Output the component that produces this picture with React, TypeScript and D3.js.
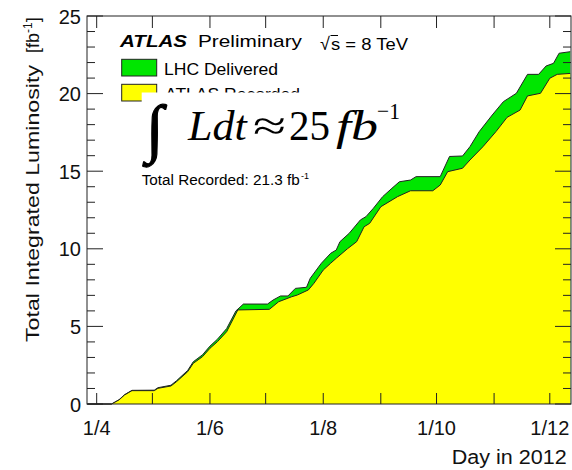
import React from "react";
import * as d3 from "d3";

// ---- data ----
const recDates = ["03-27","04-09","04-13","04-16","04-20","05-02","05-04","05-11","05-14","05-20","05-23","05-28","06-01","06-05","06-10","06-16","07-03","07-08","07-15","07-18","07-24","07-27","08-01","08-05","08-08","08-14","08-19","08-23","08-26","09-01","09-10","09-17","09-29","10-03","10-07","10-15","10-19","10-26","11-02","11-08","11-15","11-19","11-26","12-01","12-05","12-12"];
const recValues = [0,0,0.26,0.58,0.86,0.86,1.01,1.16,1.44,2.08,2.62,3.05,3.59,4.01,4.66,6.06,6.1,6.59,6.91,7.02,7.35,7.78,8.63,9.07,9.39,10.0,10.46,11.42,11.64,12.71,13.36,13.74,13.74,14.11,14.97,15.19,15.72,16.58,17.55,18.47,18.94,19.85,20.02,20.99,21.24,21.3];

const delDates = ["03-27","04-09","04-13","04-16","04-20","05-02","05-04","05-11","05-14","05-20","05-23","05-28","06-01","06-05","06-10","06-15","06-19","07-02","07-05","07-09","07-13","07-17","07-23","07-25","07-31","08-05","08-08","08-10","08-15","08-21","08-24","08-28","09-02","09-07","09-11","09-17","09-20","10-03","10-08","10-15","10-19","10-24","10-31","11-06","11-13","11-19","11-25","11-29","12-03","12-06","12-12"];
const delValues = [0,0,0.27,0.6,0.88,0.89,1.05,1.21,1.5,2.16,2.72,3.17,3.73,4.17,4.86,6.0,6.44,6.44,6.70,6.96,6.96,7.45,7.52,8.10,9.07,9.71,9.92,10.46,11.0,11.86,12.07,12.61,13.36,13.9,14.32,14.43,14.65,14.65,15.95,15.98,16.58,17.55,18.62,19.48,20.02,21.24,21.24,21.78,21.95,22.6,22.7];

const yMajorTicks = [0, 5, 10, 15, 20, 25];
const yMinorTicks = d3.range(0, 26, 1);
const xLabelMonths = [3, 5, 7, 9, 11]; // 0-based months labelled (Apr, Jun, Aug, Oct, Dec)

const YEAR = 2012;
const parse = (s: string) => {
  const [m, d] = s.split("-").map(Number);
  return new Date(Date.UTC(YEAR, m - 1, d));
};

const W = 572, H = 470;
const L = 87, R = 571, T = 16, B = 404;

export default function App() {
  const x = d3.scaleUtc()
    .domain([new Date(Date.UTC(YEAR, 2, 26, 19)), new Date(Date.UTC(YEAR, 11, 12, 10))])
    .range([L, R]);
  const y = d3.scaleLinear().domain([0, 25]).range([B, T]);

  const rec = recDates.map((d, i) => ({ d: parse(d), v: recValues[i] }));
  const del = delDates.map((d, i) => ({ d: parse(d), v: delValues[i] }));

  const area = d3.area<{ d: Date; v: number }>().x(p => x(p.d)).y0(y(0)).y1(p => y(p.v));
  const line = d3.line<{ d: Date; v: number }>().x(p => x(p.d)).y(p => y(p.v));

  const months = d3.utcMonth.range(new Date(Date.UTC(YEAR, 3, 1)), new Date(Date.UTC(YEAR, 11, 2)));
  const fmt = d3.utcFormat("%-d/%-m");

  const sans = "'Liberation Sans', Arial, sans-serif";
  const serif = "'Liberation Serif', 'Times New Roman', serif";
  const axisCol = "#222";

  return (
    <svg width={W} height={H} style={{ position: "absolute", left: 0, top: 0, background: "#fff" }}>
      <rect x={0} y={0} width={W} height={H} fill="#fff" />
      {/* areas */}
      <path d={area(del) || ""} fill="#00e600" />
      <path d={line(del) || ""} fill="none" stroke="#222" strokeWidth={1} />
      <path d={area(rec) || ""} fill="#ffff00" />
      <path d={line(rec) || ""} fill="none" stroke="#222" strokeWidth={1} />

      {/* frame */}
      <rect x={L} y={T} width={R - L} height={B - T} fill="none" stroke={axisCol} strokeWidth={1} />

      {/* y ticks */}
      {yMinorTicks.map(v => {
        const major = yMajorTicks.includes(v);
        const len = major ? 16 : 8;
        return (
          <g key={"y" + v}>
            <line x1={L} x2={L + len} y1={y(v)} y2={y(v)} stroke={axisCol} />
            <line x1={R} x2={R - len} y1={y(v)} y2={y(v)} stroke={axisCol} />
          </g>
        );
      })}
      {yMajorTicks.map(v => (
        <text key={"yl" + v} x={81} y={y(v) + 7.5} textAnchor="end" fontFamily={sans} fontSize={20} fill="#111">{v}</text>
      ))}

      {/* x ticks */}
      {months.map((m, i) => (
        <g key={"x" + i}>
          <line x1={x(m)} x2={x(m)} y1={B} y2={B - 11} stroke={axisCol} />
          <line x1={x(m)} x2={x(m)} y1={T} y2={T + 12} stroke={axisCol} />
          {xLabelMonths.includes(m.getUTCMonth()) && (
            <text x={x(m)} y={435} textAnchor="middle" fontFamily={sans} fontSize={20} fill="#111">{fmt(m)}</text>
          )}
        </g>
      ))}

      {/* axis titles */}
      <text x={566.7} y={464} textAnchor="end" fontFamily={sans} fontSize={20} fill="#111" textLength={115} lengthAdjust="spacingAndGlyphs">Day in 2012</text>
      <g transform="translate(38.5,342) rotate(-90)">
        <text x={0} y={0} fontFamily={sans} fontSize={18} fill="#111" textLength={277} lengthAdjust="spacingAndGlyphs">Total Integrated Luminosity</text>
        <text x={289} y={0} fontFamily={sans} fontSize={18} fill="#111">[fb<tspan fontSize={12} dy={-7}>-1</tspan><tspan dy={7}>]</tspan></text>
      </g>

      {/* header */}
      <text x={120} y={47} fontFamily={sans} fontSize={17} fontWeight="bold" fontStyle="italic" fill="#000" textLength={67} lengthAdjust="spacingAndGlyphs">ATLAS</text>
      <text x={198} y={47} fontFamily={sans} fontSize={17} fill="#000" textLength={104} lengthAdjust="spacingAndGlyphs">Preliminary</text>
      <text x={320} y={50} fontFamily={sans} fontSize={18} fill="#000">√</text>
      <line x1={330.5} x2={338} y1={35.5} y2={35.5} stroke="#000" strokeWidth={1} />
      <text x={331} y={50} fontFamily={sans} fontSize={16} fill="#000" textLength={77} lengthAdjust="spacingAndGlyphs">s = 8 TeV</text>

      {/* legend */}
      <rect x={121.7} y={59.3} width={35} height={16.7} fill="#00e600" stroke="#222" />
      <text x={164} y={75} fontFamily={sans} fontSize={17} fill="#000" textLength={114} lengthAdjust="spacingAndGlyphs">LHC Delivered</text>
      <rect x={121.7} y={84.3} width={35} height={16.7} fill="#ffff00" stroke="#222" />
      <text x={165} y={100} fontFamily={sans} fontSize={17} fill="#000" textLength={135} lengthAdjust="spacingAndGlyphs">ATLAS Recorded</text>

      {/* white label box */}
      <rect x={141.7} y={92.5} width={270} height={70} fill="#fff" />
      <text x={146} y={150} fontFamily={serif} fontSize={64} fill="#000" stroke="#000" strokeWidth={1.2}>∫</text>
      <text x={188} y={140} fontFamily={serif} fontSize={42} fontStyle="italic" fill="#000" textLength={58.7} lengthAdjust="spacingAndGlyphs">Ldt</text>
      <text x={253} y={140} fontFamily={serif} fontSize={42} fill="#000" textLength={33} lengthAdjust="spacingAndGlyphs">≈</text>
      <text x={289} y={140} fontFamily={serif} fontSize={42} fill="#000" textLength={41} lengthAdjust="spacingAndGlyphs">25</text>
      <text x={336} y={140} fontFamily={serif} fontSize={42} fontStyle="italic" fill="#000" textLength={42} lengthAdjust="spacingAndGlyphs">fb</text>
      <text x={377} y={119} fontFamily={serif} fontSize={24} fill="#000" textLength={23} lengthAdjust="spacingAndGlyphs">−1</text>

      <text x={141.7} y={185} fontFamily={sans} fontSize={14} fill="#000" textLength={158} lengthAdjust="spacingAndGlyphs">Total Recorded: 21.3 fb</text>
      <text x={301} y={179} fontFamily={sans} fontSize={9} fill="#000">-1</text>
    </svg>
  );
}
